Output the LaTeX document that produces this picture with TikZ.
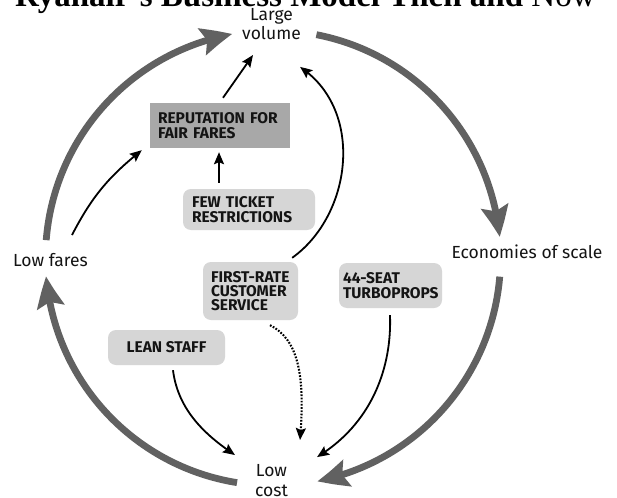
\documentclass[tikz,border=0pt]{standalone}
\usepackage{fontspec}
\setmainfont{Fira Sans}
\newfontfamily\titlefont{Liberation Serif}
\usetikzlibrary{arrows.meta,bending,calc}

\definecolor{ink}{HTML}{141414}
\definecolor{cycle}{HTML}{616161}
\definecolor{darkbox}{HTML}{A8A8A8}
\definecolor{lightbox}{HTML}{D6D6D6}

\tikzset{
  label/.style={font=\fontsize{17.5}{19.5}\selectfont, text=ink, inner sep=0pt, align=center, anchor=base},
  boxtext/.style={font=\fontsize{15.5}{14.3}\selectfont\bfseries, text=ink, inner ysep=0pt},
  sharpbox/.style={boxtext, fill=darkbox},
  softbox/.style={boxtext, fill=lightbox, rounded corners=8pt},
  bigarrow/.style={draw=cycle, line width=6.8pt, -{Stealth[length=31pt,width=27pt,inset=5pt,bend]}},
  conn/.style={draw=black, line width=1.8pt, -{Stealth[length=12pt,width=10pt,inset=2pt,bend]}},
  dotconn/.style={conn, line width=2.1pt, dash pattern=on 1.7pt off 1.5pt}
}

\begin{document}
\begin{tikzpicture}[x=1pt, y=-1pt]
  \clip (0,0) rectangle (617,497);
  \fill[white] (0,0) rectangle (617,497);

  % heading, mostly above the top edge
  \node[anchor=base west, inner sep=0pt, font=\titlefont\fontsize{33}{36}\selectfont] (title) at (15,6.5)
    {\textbf{Ryanair’s Business Model Then and} Now};

  % cycle labels (base = baseline of the last line)
  \node[label] (large)    at (271.5,40)  {Large\\volume};
  \node[label] (econ)     at (527,258.5) {Economies of scale};
  \node[label] (lowcost)  at (271.5,496) {Low\\cost};
  \node[label] (lowfares) at (50.5,266)  {Low fares};

  % drivers
  \node[sharpbox, text width=124pt, inner xsep=8pt, minimum height=45pt, align=left]
    (rep) at (220,125.5) {REPUTATION~FOR\\FAIR~FARES};
  \node[softbox, text width=114pt, inner xsep=9pt, minimum height=41pt, align=left]
    (few) at (249,209.5) {FEW~TICKET\\RESTRICTIONS};
  \node[softbox, text width=79pt, inner xsep=8pt, minimum height=58pt, align=left]
    (first) at (250.5,291) {FIRST-RATE\\CUSTOMER\\SERVICE};
  \node[softbox, text width=95pt, inner xsep=4pt, minimum height=45pt, align=left]
    (seat) at (390.5,285.5) {44-SEAT\\TURBOPROPS};
  \node[softbox, minimum width=117pt, minimum height=35pt, align=center]
    (lean) at (166.5,347.5) {LEAN~STAFF};

  % the main loop: arcs of one circle
  \coordinate (O) at (273,258);
  \coordinate (s1) at ($(O)+(184.5:227.5)$);
  \coordinate (s2) at ($(O)+(281:227.5)$);
  \coordinate (s3) at ($(O)+(4.7:227.5)$);
  \coordinate (s4) at ($(O)+(99.1:227.5)$);
  \draw[bigarrow] (s1) arc[start angle=184.5, end angle=259.7, radius=227.5];
  \draw[bigarrow] (s2) arc[start angle=281,   end angle=354.7, radius=227.5];
  \draw[bigarrow] (s3) arc[start angle=4.7,   end angle=78.8,  radius=227.5];
  \draw[bigarrow] (s4) arc[start angle=99.1,  end angle=175.4, radius=227.5];

  % influences
  \draw[conn] ($(lowfares.base)+(21.5,-31)$) to[bend left=12] ($(rep.south west)+(-8,2)$);
  \draw[conn] ($(rep.north)+(3,-5)$) -- ($(large.base)+(-18.5,15)$);
  \draw[conn] ($(few.north)+(-30,-6)$) -- ($(rep.south)+(-1,4)$);
  \draw[conn] ($(first.north east)+(-6,-4)$)
     .. controls (352,215) and (365,110) .. ($(large.base)+(28.5,27)$);
  \draw[dotconn] ($(first.south)+(19.5,5)$)
     .. controls (300,340) and (305,380) .. ($(lowcost.base)+(28.5,-56)$);
  \draw[conn] ($(lean.south)+(6.5,5)$)
     .. controls (178,410) and (205,435) .. ($(lowcost.base)+(-36.5,-41)$);
  \draw[conn] ($(seat.south)+(-0.5,7)$)
     .. controls (392,370) and (370,425) .. ($(lowcost.base)+(45.5,-39)$);
\end{tikzpicture}
\end{document}
